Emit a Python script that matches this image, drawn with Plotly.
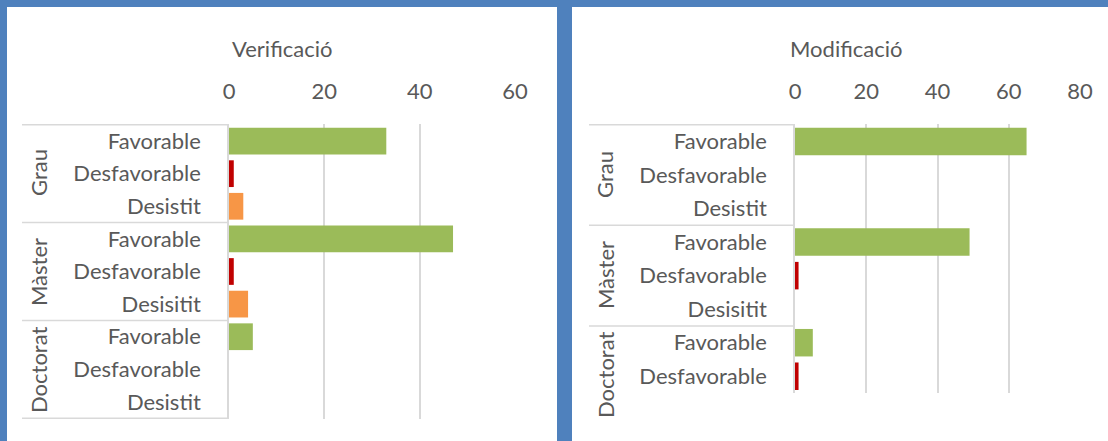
import plotly.graph_objects as go

# ---------------- data ----------------
left_title = "Verificació"
left_groups = ["Grau", "Grau", "Grau", "Màster", "Màster", "Màster", "Doctorat", "Doctorat", "Doctorat"]
left_subs = ["Favorable", "Desfavorable", "Desistit", "Favorable", "Desfavorable", "Desisitit",
             "Favorable", "Desfavorable", "Desistit"]
left_values = [33, 1, 3, 47, 1, 4, 5, 0, 0]
left_ticks = [0, 20, 40, 60]

right_title = "Modificació"
right_groups = ["Grau", "Grau", "Grau", "Màster", "Màster", "Màster", "Doctorat", "Doctorat"]
right_subs = ["Favorable", "Desfavorable", "Desistit", "Favorable", "Desfavorable", "Desisitit",
              "Favorable", "Desfavorable"]
right_values = [65, 0, 0, 49, 1, 0, 5, 1]
right_ticks = [0, 20, 40, 60, 80]

# ---------------- style ----------------
W, H = 1108, 441
BG_BLUE = "#4F81BD"
TEXT = "#595959"
GRID = "#D9D9D9"
FONT = "Lato"
sub_colors = {"Favorable": "#9BBB59", "Desfavorable": "#C00000",
              "Desistit": "#F79646", "Desisitit": "#F79646"}


def px_x(p):
    return p / W


def px_y(p):
    return 1 - p / H


fig = go.Figure()

panels = [
    dict(title=left_title, groups=left_groups, subs=left_subs, values=left_values, ticks=left_ticks,
         xa="x", ya="y", xdom=[px_x(229), px_x(515)], ydom=[px_y(419), px_y(124)],
         panel=[7, 557], line_x0=22, title_x=282, bottom_line=True,
         group_label_x=38, group_label_y=[173, 272, 370]),
    dict(title=right_title, groups=right_groups, subs=right_subs, values=right_values, ticks=right_ticks,
         xa="x2", ya="y2", xdom=[px_x(795), px_x(1080)], ydom=[px_y(393), px_y(124)],
         panel=[572, 1108], line_x0=589, title_x=846, bottom_line=False,
         group_label_x=605, group_label_y=[175, 275, 375]),
]

shapes = []
annotations = []
layout_axes = {}

for i, p in enumerate(panels):
    keys = [f"{g}|{s}|{k}" for k, (g, s) in enumerate(zip(p["groups"], p["subs"]))]
    fig.add_trace(go.Bar(
        x=p["values"], y=keys, orientation="h",
        marker=dict(color=[sub_colors[s] for s in p["subs"]], line=dict(width=0)),
        xaxis=p["xa"], yaxis=p["ya"], showlegend=False, hoverinfo="x+y",
    ))
    sfx = "" if i == 0 else "2"
    layout_axes["xaxis" + sfx] = dict(
        domain=p["xdom"], range=[0, p["ticks"][-1]], side="top",
        tickvals=p["ticks"], ticktext=[str(t) for t in p["ticks"]],
        showgrid=True, gridcolor=GRID, gridwidth=1.5, zeroline=False, showline=False,
        ticks="", ticklabelstandoff=20, tickfont=dict(family=FONT, size=22, color=TEXT),
        anchor="y" + sfx, fixedrange=True, automargin=False,
    )
    layout_axes["yaxis" + sfx] = dict(
        domain=p["ydom"], type="category", autorange="reversed",
        categoryorder="array", categoryarray=keys,
        tickvals=keys, ticktext=p["subs"],
        showgrid=False, zeroline=False, showline=True, linecolor=GRID, linewidth=1.5,
        ticks="", ticklabelstandoff=22, tickfont=dict(family=FONT, size=22, color=TEXT),
        anchor="x" + sfx, fixedrange=True, automargin=False,
    )

    # white panel
    shapes.append(dict(type="rect", xref="paper", yref="paper",
                       x0=px_x(p["panel"][0]), x1=px_x(p["panel"][1]), y0=0, y1=px_y(7),
                       fillcolor="white", line=dict(width=0), layer="below"))

    # group divider lines
    ngroups = []
    for g in p["groups"]:
        if g not in ngroups:
            ngroups.append(g)
    bounds = [-0.5]
    idx = 0
    for g in ngroups:
        idx += p["groups"].count(g)
        bounds.append(idx - 0.5)
    if not p["bottom_line"]:
        bounds = bounds[:-1]
    for b in bounds:
        shapes.append(dict(type="line", xref="paper", yref=p["ya"],
                           x0=px_x(p["line_x0"]), x1=p["xdom"][0], y0=b, y1=b,
                           line=dict(color=GRID, width=1.5)))

    # group labels
    for g, gy in zip(ngroups, p["group_label_y"]):
        annotations.append(dict(text=g, xref="paper", yref="paper",
                                x=px_x(p["group_label_x"]), y=px_y(gy),
                                textangle=-90, showarrow=False,
                                font=dict(family=FONT, size=22, color=TEXT),
                                xanchor="center", yanchor="middle"))
    # title
    annotations.append(dict(text=p["title"], xref="paper", yref="paper",
                            x=px_x(p["title_x"]), y=px_y(48), showarrow=False,
                            font=dict(family=FONT, size=22, color=TEXT),
                            xanchor="center", yanchor="middle"))

fig.update_layout(
    width=W, height=H, margin=dict(l=0, r=0, t=0, b=0, autoexpand=False),
    paper_bgcolor=BG_BLUE, plot_bgcolor="rgba(0,0,0,0)",
    bargap=0.18, shapes=shapes, annotations=annotations,
    font=dict(family=FONT, color=TEXT), showlegend=False,
    **layout_axes,
)

fig.write_html("out.html", config={"displayModeBar": False},
               post_script="document.body.style.margin='0';document.body.style.overflow='hidden';")
